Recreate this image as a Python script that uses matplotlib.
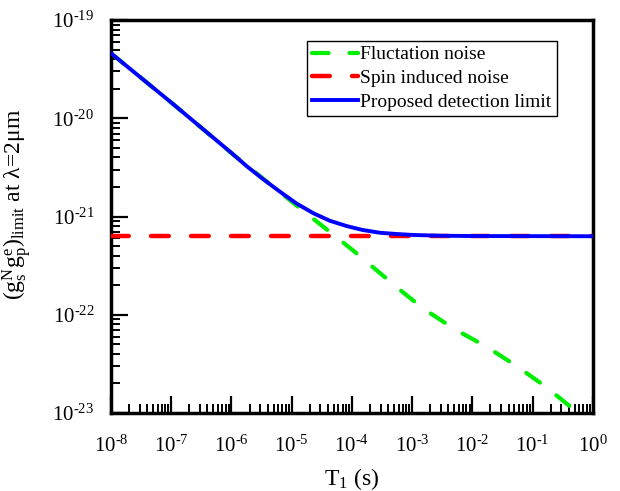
import matplotlib
matplotlib.use("Agg")
import matplotlib.pyplot as plt
from matplotlib.ticker import LogLocator, NullFormatter, FixedLocator, FixedFormatter

plt.rcParams['font.family'] = ['Liberation Serif', 'DejaVu Serif']
plt.rcParams['mathtext.fontset'] = 'custom'
plt.rcParams['mathtext.rm'] = 'Liberation Serif'
plt.rcParams['mathtext.it'] = 'Liberation Serif:italic'
plt.rcParams['mathtext.bf'] = 'Liberation Serif:bold'

# ---- data ----
t_fluct = [1e-8, 1e-7, 1e-6, 1e-5, 1e-4, 6.3e-4, 1.52e-3, 5.1e-3, 1.72e-2, 5.4e-2, 0.16, 0.44, 0.6]
fluct = [4.6e-20, 1.45e-20, 4.42e-21, 1.42e-21, 4.62e-22, 1.79e-22, 1.16e-22, 7.11e-23,
         4.73e-23, 3.01e-23, 1.88e-23, 1.14e-23, 9.9e-24]

t_spin = [1e-8, 1.0]
spin = [6.3e-22, 6.3e-22]

t_limit = [1e-8, 1e-7, 1e-6, 1.8e-6, 3.4e-6, 6.4e-6, 1.2e-5, 2.3e-5, 4.3e-5, 8.2e-5,
           1.5e-4, 2.9e-4, 5.5e-4, 1.04e-3, 2.9e-3, 1e-2, 1.0]
limit = [4.6e-20, 1.45e-20, 4.45e-21, 3.25e-21, 2.39e-21, 1.79e-21, 1.36e-21, 1.08e-21,
         9.06e-22, 8.0e-22, 7.3e-22, 6.84e-22, 6.64e-22, 6.49e-22, 6.38e-22, 6.33e-22, 6.3e-22]

labels = ["Fluctation noise", "Spin induced noise", "Proposed detection limit"]
xticks = [1e-8, 1e-7, 1e-6, 1e-5, 1e-4, 1e-3, 1e-2, 1e-1, 1e0]
xticklabels = [r"$10^{\text{-8}}$", r"$10^{\text{-7}}$", r"$10^{\text{-6}}$", r"$10^{\text{-5}}$",
               r"$10^{\text{-4}}$", r"$10^{\text{-3}}$", r"$10^{\text{-2}}$", r"$10^{\text{-1}}$",
               r"$10^{\text{0}}$"]
yticks = [1e-23, 1e-22, 1e-21, 1e-20, 1e-19]
yticklabels = [r"$10^{\text{-23}}$", r"$10^{\text{-22}}$", r"$10^{\text{-21}}$",
               r"$10^{\text{-20}}$", r"$10^{\text{-19}}$"]

fig = plt.figure(figsize=(6.2, 4.91), dpi=100)
ax = fig.add_axes([0.179, 0.159, 0.777, 0.800])

ax.plot(t_fluct, fluct, color='#00ee00', lw=3.0, dashes=(4.0, 5.0), dash_capstyle='round',
        label=labels[0], zorder=2)
ax.plot(t_spin, spin, color='#ff0000', lw=3.2, dashes=(4.0, 5.0), dash_capstyle='round',
        label=labels[1], zorder=3)
ax.plot(t_limit, limit, color='#0000ff', lw=2.8, label=labels[2], zorder=4)

ax.set_xscale('log')
ax.set_yscale('log')
ax.set_xlim(1e-8, 1.0)
ax.set_ylim(1e-23, 1e-19)

ax.xaxis.set_major_locator(FixedLocator(xticks))
ax.xaxis.set_major_formatter(FixedFormatter(xticklabels))
ax.yaxis.set_major_locator(FixedLocator(yticks))
ax.yaxis.set_major_formatter(FixedFormatter(yticklabels))
ax.xaxis.set_minor_locator(LogLocator(base=10, subs=range(2, 10), numticks=100))
ax.yaxis.set_minor_locator(LogLocator(base=10, subs=range(2, 10), numticks=100))
ax.xaxis.set_minor_formatter(NullFormatter())
ax.yaxis.set_minor_formatter(NullFormatter())

ax.tick_params(which='both', direction='in', top=False, right=False, color='black')
ax.tick_params(which='major', length=12.5, width=1.6)
ax.tick_params(which='minor', length=6.5, width=1.4)
ax.tick_params(axis='x', which='major', pad=16, labelsize=15)
ax.tick_params(axis='y', which='major', pad=12, labelsize=15)

for s in ax.spines.values():
    s.set_linewidth(2.5)

ax.set_xlabel(r"T$_{1}$ (s)", fontsize=17)
ax.set_ylabel(r"$(\mathrm{g}_{\mathrm{s}}^{\mathrm{N}}\mathrm{g}_{\mathrm{p}}^{\mathrm{e}})_{\mathrm{limit}}$ at λ=2μm",
              fontsize=17)
ax.xaxis.set_label_coords(0.5, -0.135)
ax.yaxis.set_label_coords(-0.16, 0.53)

leg = ax.legend(loc='upper right', bbox_to_anchor=(0.925, 0.947), borderaxespad=0,
                fontsize=14, frameon=True, fancybox=False, framealpha=1,
                edgecolor='black', handlelength=2.35, handletextpad=0.15,
                borderpad=0.25, labelspacing=0.32)
leg.get_frame().set_linewidth(1.0)

fig.savefig("out.png", dpi=100)
